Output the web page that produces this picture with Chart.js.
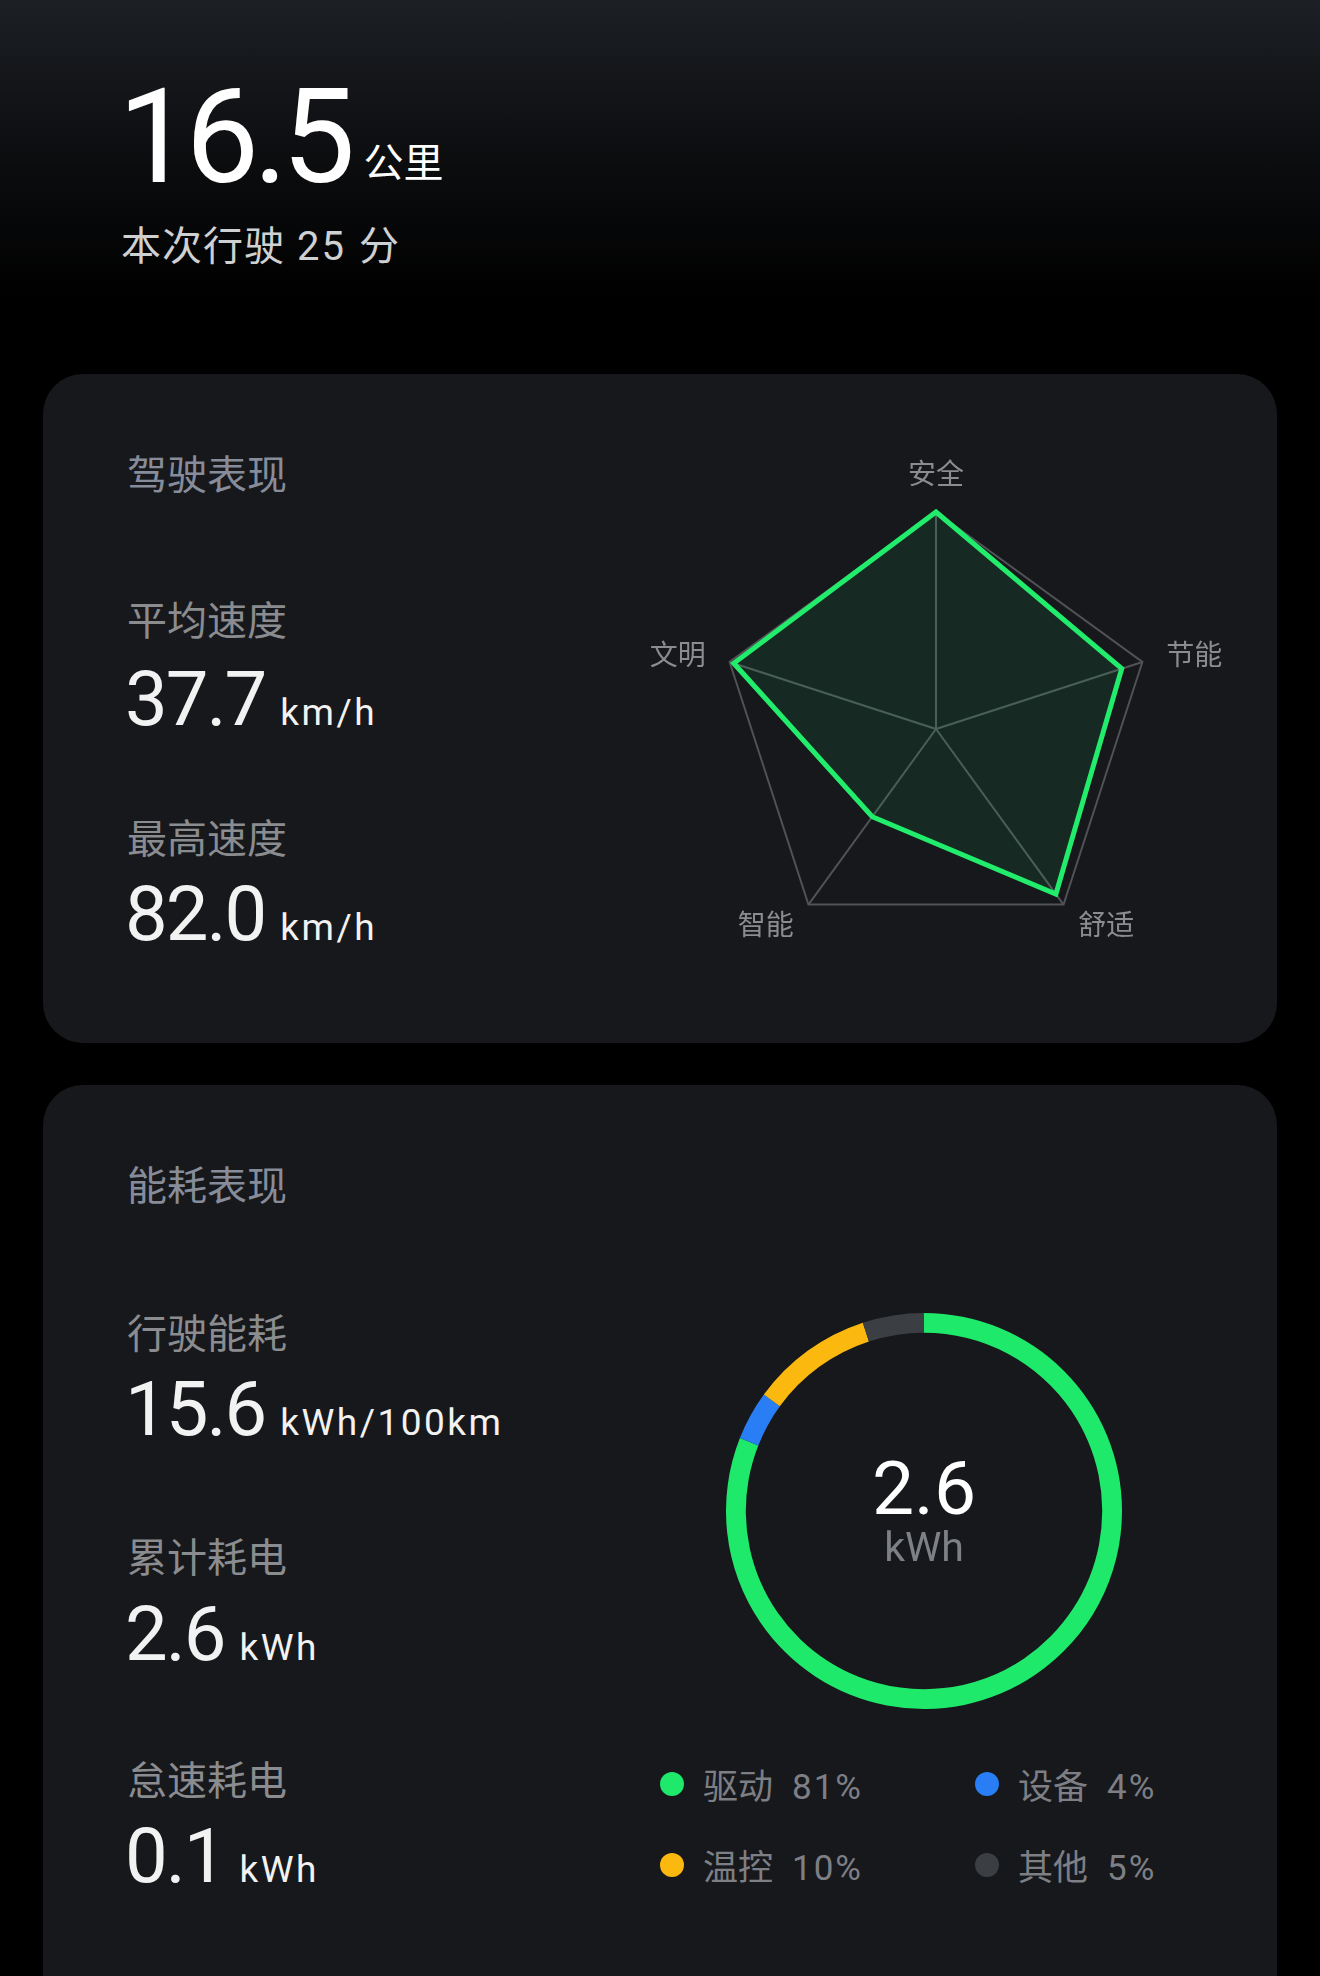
<!DOCTYPE html>
<html lang="zh-CN">
<head>
<meta charset="utf-8">
<title>行程报告</title>
<script src="https://cdn.jsdelivr.net/npm/chart.js@4.4.1/dist/chart.umd.min.js"></script>
<style>
  html, body { margin: 0; padding: 0; }
  body {
    width: 1320px; height: 1976px; overflow: hidden; position: relative;
    background: linear-gradient(180deg, #1c1f24 0px, #0b0c0e 170px, #000 300px, #000 100%);
    font-family: Roboto, "Noto Sans CJK SC", sans-serif;
  }
  .abs { position: absolute; line-height: 1; white-space: nowrap; }
  .cjk { font-family: "Noto Sans CJK SC", sans-serif; }
  .card { position: absolute; left: 43px; width: 1234px; background: #17181c; border-radius: 40px; }
  .title { font-size: 40px; color: #878c9a; }
  .label { font-size: 40px; color: #8b8c8f; }
  .num { font-size: 76px; color: #f2f2f2; letter-spacing: -2px; }
  .num span { font-size: 37px; letter-spacing: 2.5px; margin-left: 15px; }
  .legend-item { position: absolute; font-size: 35px; color: #7d7f84; line-height: 1; white-space: nowrap; }
  .legend-item i { position: absolute; left: -43px; top: 6px; width: 24px; height: 24px; border-radius: 50%; }
  .legend-item b { font-weight: 400; font-family: Roboto, sans-serif; margin-left: 19px; letter-spacing: 2px; }
  .center-val { position: absolute; left: 724px; width: 400px; text-align: center; }
</style>
</head>
<body>

<div class="abs" style="left:118px; top:72px; font-size:131px; color:#fff; letter-spacing:-6px;">16.5<span class="cjk" style="font-size:40px; letter-spacing:0; margin-left:14px; position:relative; top:-5px;">公里</span></div>
<div class="abs cjk" style="left:121px; top:223px; font-size:40px; color:#cfd0d2; letter-spacing:1px;">本次行驶<span style="font-family:Roboto; margin:0 13px 0 12px; letter-spacing:2px;">25</span>分</div>

<div class="card" style="top:374px; height:669px;"></div>
<div class="card" style="top:1085px; height:940px;"></div>

<div class="abs cjk title" style="left:127px; top:452px;">驾驶表现</div>
<div class="abs cjk label" style="left:127px; top:598px;">平均速度</div>
<div class="abs num" style="left:125px; top:661px;">37.7<span>km/h</span></div>
<div class="abs cjk label" style="left:127px; top:816px;">最高速度</div>
<div class="abs num" style="left:125px; top:876px;">82.0<span>km/h</span></div>

<div class="abs cjk title" style="left:127px; top:1163px;">能耗表现</div>
<div class="abs cjk label" style="left:127px; top:1311px;">行驶能耗</div>
<div class="abs num" style="left:125px; top:1371px;">15.6<span>kWh/100km</span></div>
<div class="abs cjk label" style="left:127px; top:1535px;">累计耗电</div>
<div class="abs num" style="left:125px; top:1596px;">2.6<span>kWh</span></div>
<div class="abs cjk label" style="left:127px; top:1758px;">怠速耗电</div>
<div class="abs num" style="left:125px; top:1818px;">0.1<span>kWh</span></div>

<div style="position:absolute; left:600px; top:420px; width:672px; height:620px;">
  <canvas id="radar"></canvas>
</div>

<div style="position:absolute; left:726px; top:1313px; width:396px; height:396px;">
  <canvas id="donut"></canvas>
</div>
<div class="center-val" style="top:1448px; line-height:80px; height:80px; font-size:75px; color:#fff;">2.6<br><span style="display:inline-block; font-size:41px; line-height:41px; color:#7d8085; vertical-align:top; margin-top:-1px;">kWh</span></div>

<div id="legend"></div>

<script>
// 驾驶表现 雷达图
const radarLabels = ["安全", "节能", "舒适", "智能", "文明"];
const radarValues = [100, 90, 94, 50, 98];

// 能耗构成
const energyLabels = ["驱动", "设备", "温控", "其他"];
const energyValues = [81, 4, 10, 5];
const energyColors = ["#1fe96b", "#2a7ef5", "#fbb90f", "#3b3e42"];

// 维度名称放在顶点外侧, 左右两侧垂直居中
const radarLabelPlugin = {
  id: "radarLabelPlugin",
  afterDraw(chart) {
    let scale = chart.scales.r;
    let ctx = chart.ctx;
    ctx.save();
    ctx.font = "28px 'Noto Sans CJK SC'";
    ctx.fillStyle = "#8a8c90";
    radarLabels.forEach((text, i) => {
      let p = scale.getPointPosition(i, scale.drawingArea + 25);
      let dx = p.x - scale.xCenter;
      ctx.textAlign = Math.abs(dx) < 1 ? "center" : (dx > 0 ? "left" : "right");
      ctx.textBaseline = p.y < scale.yCenter - scale.drawingArea ? "bottom" : "middle";
      ctx.fillText(text, p.x, p.y);
    });
    ctx.restore();
  }
};

new Chart(document.getElementById("radar"), {
  type: "radar",
  data: {
    labels: radarLabels,
    datasets: [{
      data: radarValues,
      borderColor: "#22ec6c",
      borderWidth: 5,
      backgroundColor: "rgba(24, 230, 110, 0.09)",
      pointRadius: 0,
      pointHoverRadius: 0,
      fill: true
    }]
  },
  options: {
    responsive: true,
    maintainAspectRatio: false,
    animation: false,
    layout: { padding: { left: 119, right: 119, top: 92, bottom: 94 } },
    plugins: { legend: { display: false }, tooltip: { enabled: false } },
    scales: {
      r: {
        min: 0,
        max: 100,
        ticks: { display: false, stepSize: 100 },
        grid: { color: "#505256", lineWidth: 2 },
        angleLines: { color: "#505256", lineWidth: 2 },
        pointLabels: { display: false }
      }
    }
  },
  plugins: [radarLabelPlugin]
});

new Chart(document.getElementById("donut"), {
  type: "doughnut",
  data: {
    labels: energyLabels,
    datasets: [{
      data: energyValues,
      backgroundColor: energyColors,
      borderWidth: 0
    }]
  },
  options: {
    responsive: true,
    maintainAspectRatio: false,
    animation: false,
    cutout: "90%",
    plugins: { legend: { display: false }, tooltip: { enabled: false } }
  }
});

// 图例 两列
const legendPos = [[703, 1766], [1018, 1766], [703, 1847], [1018, 1847]];
let legendBox = document.getElementById("legend");
legendBox.innerHTML = energyLabels.map((name, i) => `
  <div class="legend-item cjk" style="left:${legendPos[i][0]}px; top:${legendPos[i][1]}px;">
    <i style="background:${energyColors[i]}"></i>${name}<b>${energyValues[i]}%</b>
  </div>`).join("");
</script>
</body>
</html>
